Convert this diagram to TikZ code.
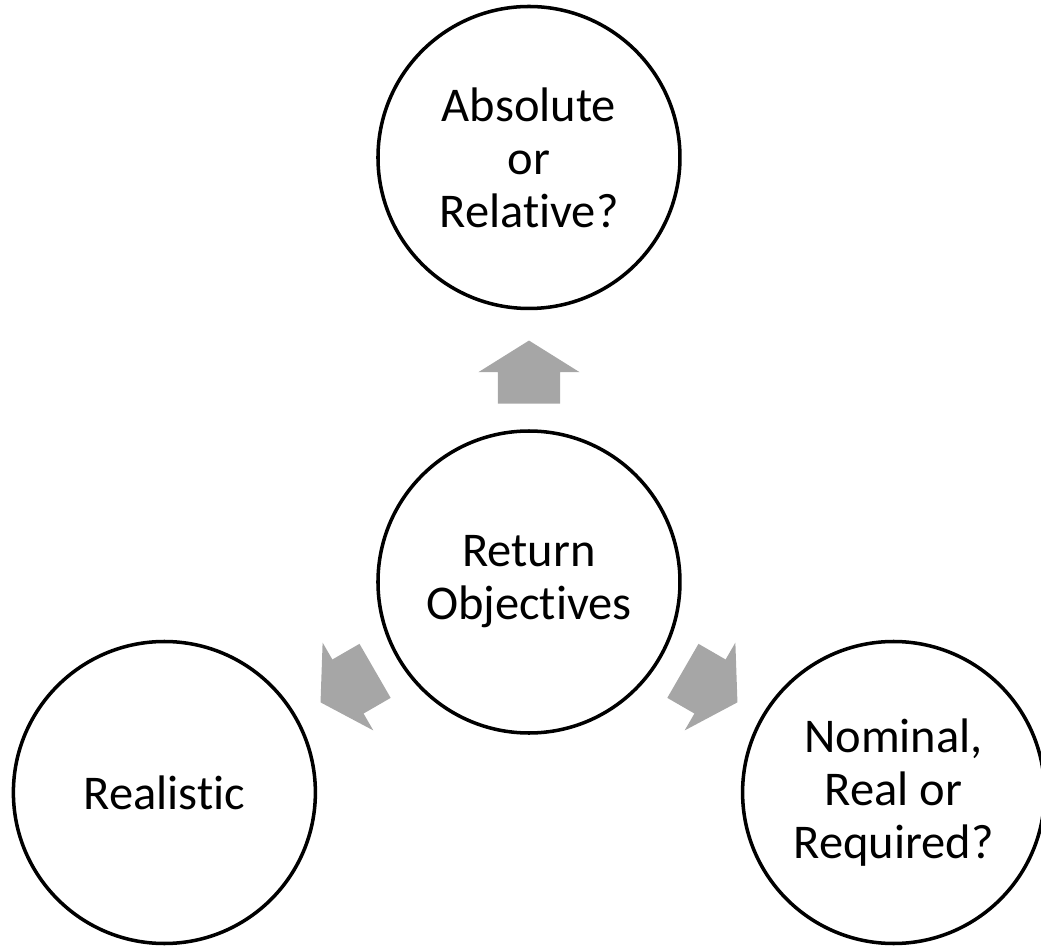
\documentclass[tikz,border=0pt]{standalone}
\usepackage{fontspec}
\setmainfont[Ligatures=NoCommon]{Carlito}
\usetikzlibrary{positioning, shapes.arrows}

\definecolor{arrowgray}{RGB}{166,166,166}

\begin{document}
\begin{tikzpicture}[
    node distance = 1.19cm,
    font = \fontsize{13.8}{15.1}\selectfont
]

% Setup the styles for the circles and the block arrows
\tikzstyle{bubble}=[draw=black, line width=1pt, circle, minimum size=3.02cm, inner sep=0pt, align=center]
\tikzstyle{fatarrow}=[single arrow, fill=arrowgray, draw=none, minimum height=0.63cm, inner xsep=0pt, inner ysep=0.305cm, single arrow head extend=0.195cm, single arrow tip angle=116]

% Fix the page size
\useasboundingbox (-5.29,-3.64) rectangle (5.12,5.82);

% Draw the circles
\node[bubble] (ret) {Return\\Objectives};
\node[bubble, above=of ret] (abs) {Absolute\\or\\Relative?};
\node[bubble] (real) at (210:4.21) {Realistic};
\node[bubble] (nom) at (-30:4.21) {Nominal,\\Real or\\Required?};

% Draw the block arrows pointing outwards
\foreach \target in {abs, real, nom}
    \path (ret) -- (\target) node[pos=0.21, anchor=tail, sloped, allow upside down, fatarrow] {};

\end{tikzpicture}
\end{document}
